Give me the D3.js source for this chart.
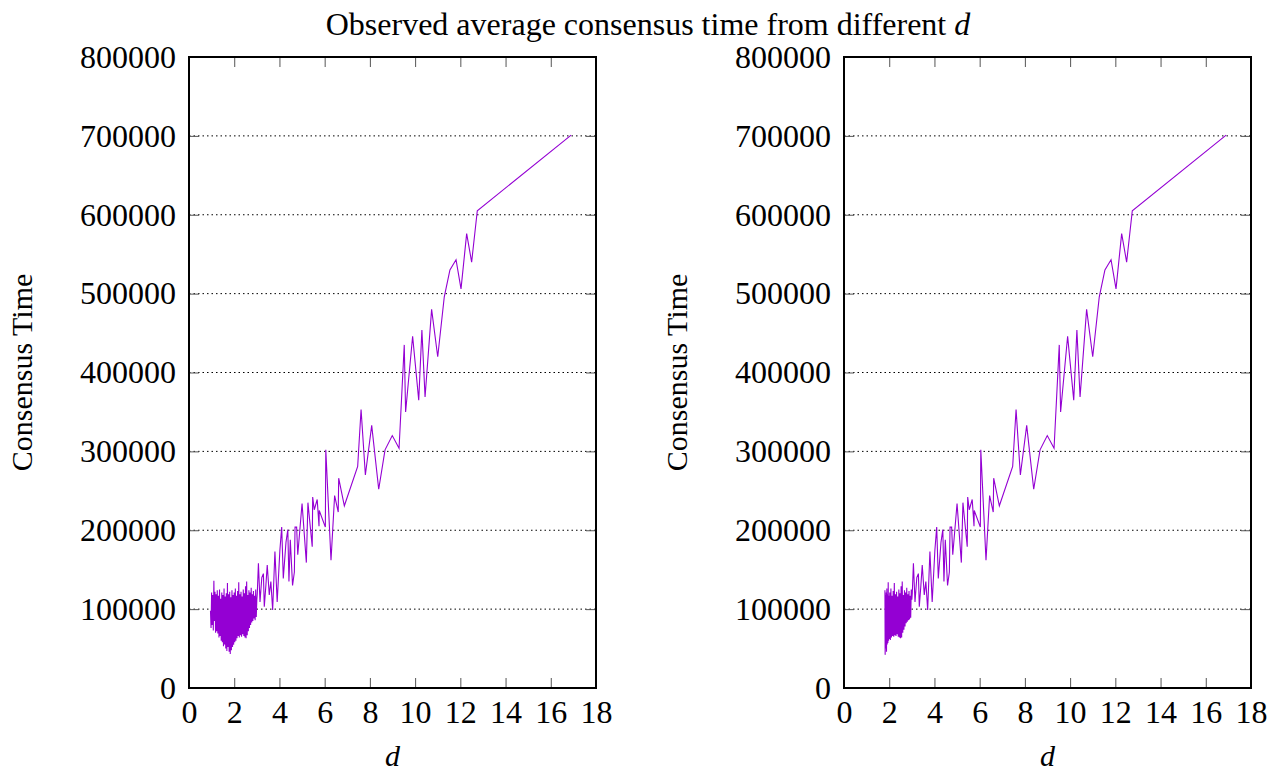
<!DOCTYPE html>
<html>
<head>
<meta charset="utf-8">
<script src="https://cdn.jsdelivr.net/npm/d3@7"></script>
<style>
  body { margin: 0; background: #fff; }
  svg { display: block; font-family: "Liberation Serif", "Times New Roman", serif; }
</style>
</head>
<body>
<svg id="chart" width="1284" height="774"></svg>
<script>
// x ticks and y ticks
const xTicks = [0, 2, 4, 6, 8, 10, 12, 14, 16, 18];
const yTicks = [0, 100000, 200000, 300000, 400000, 500000, 600000, 700000, 800000];
const gridTicks = [100000, 200000, 300000, 400000, 500000, 600000, 700000];

// dense part, left panel (d from ~1)
const leftDenseD = [0.95, 0.975, 1.0, 1.025, 1.05, 1.075, 1.1, 1.125, 1.15, 1.175, 1.2, 1.225, 1.25, 1.275,
  1.3, 1.325, 1.35, 1.375, 1.4, 1.425, 1.45, 1.475, 1.5, 1.525, 1.55, 1.575, 1.6, 1.625, 1.65, 1.675,
  1.7, 1.725, 1.75, 1.775, 1.8, 1.825, 1.85, 1.875, 1.9, 1.925, 1.95, 1.975, 2.0, 2.025, 2.05, 2.075,
  2.1, 2.125, 2.15, 2.175, 2.2, 2.225, 2.25, 2.275, 2.3, 2.325, 2.35, 2.375, 2.4, 2.425, 2.45, 2.475,
  2.5, 2.525, 2.55, 2.575, 2.6, 2.625, 2.65, 2.675, 2.7, 2.725, 2.75, 2.775, 2.8, 2.825, 2.85, 2.875,
  2.9, 2.925, 2.95, 2.975, 3.0];
const leftDenseT = [98000, 76000, 121000, 80000, 118000, 73000, 136000, 85000, 122000, 70000, 119000, 72000, 124000, 69000,
  117000, 64000, 125000, 66000, 113000, 60000, 121000, 58000, 118000, 53000, 126000, 55000, 116000, 50000, 120000, 47000,
  133000, 52000, 119000, 46000, 122000, 43000, 115000, 48000, 124000, 52000, 118000, 55000, 121000, 58000, 126000, 60000,
  117000, 63000, 123000, 66000, 134000, 64000, 119000, 67000, 122000, 65000, 116000, 68000, 125000, 66000, 120000, 64000,
  129000, 63000, 135000, 67000, 118000, 72000, 124000, 76000, 121000, 80000, 127000, 83000, 119000, 85000, 123000, 88000,
  117000, 86000, 125000, 90000, 112000];

// dense part, right panel (d from ~1.8)
const rightDenseD = [1.81, 1.82, 1.835, 1.85, 1.865, 1.88, 1.895, 1.91, 1.925, 1.94, 1.955, 1.97, 1.985, 2.0,
  2.025, 2.05, 2.075, 2.1, 2.125, 2.15, 2.175, 2.2, 2.225, 2.25, 2.275, 2.3, 2.325, 2.35, 2.375, 2.4,
  2.425, 2.45, 2.475, 2.5, 2.525, 2.55, 2.575, 2.6, 2.625, 2.65, 2.675, 2.7, 2.725, 2.75, 2.775, 2.8,
  2.825, 2.85, 2.875, 2.9, 2.925, 2.95, 2.975, 3.0];
const rightDenseT = [124000, 42000, 118000, 50000, 121000, 46000, 126000, 55000, 119000, 57000, 134000, 60000, 117000, 62000,
  121000, 61000, 126000, 64000, 117000, 66000, 123000, 65000, 133000, 67000, 119000, 66000, 122000, 68000, 116000, 65000,
  125000, 64000, 120000, 63000, 129000, 64000, 135000, 70000, 118000, 74000, 124000, 78000, 121000, 82000, 127000, 84000,
  119000, 86000, 123000, 87000, 117000, 89000, 125000, 112000];

// sparse part, shared by both panels
const sparseD = [3.02, 3.07, 3.14, 3.22, 3.29, 3.33, 3.4, 3.46, 3.55, 3.62, 3.7, 3.8, 3.9, 4.02, 4.1, 4.17,
  4.29, 4.37, 4.42, 4.48, 4.58, 4.66, 4.69, 4.76, 4.81, 5.0, 5.19, 5.26, 5.45, 5.47, 5.54, 5.67, 5.75, 5.76,
  6.03, 6.05, 6.28, 6.44, 6.6, 6.62, 6.87, 7.46, 7.61, 7.8, 8.08, 8.39, 8.67, 8.99, 9.29, 9.52, 9.58, 9.89,
  10.16, 10.3, 10.44, 10.73, 11.0, 11.29, 11.54, 11.81, 12.03, 12.28, 12.5, 12.75, 16.9];
const sparseT = [120000, 158000, 109000, 140000, 145000, 103000, 130000, 156000, 118000, 135000, 99000, 173000, 109000, 175000, 204000, 139000,
  185000, 201000, 135000, 188000, 130000, 147000, 204000, 204000, 169000, 234000, 159000, 235000, 179000, 242000, 226000, 239000, 205000, 225000,
  204000, 302000, 162000, 244000, 223000, 266000, 231000, 281000, 353000, 270000, 333000, 252000, 302000, 320000, 304000, 435000, 350000, 446000,
  365000, 454000, 369000, 480000, 420000, 496000, 530000, 543000, 506000, 576000, 540000, 605000, 701000];

const svg = d3.select('#chart');
const lineColor = '#9400d3';
const tickFont = 32;
const labelFont = 30;

const panelW = 407;
const plotTop = 57, plotBottom = 688;

svg.append('text')
  .attr('x', 648).attr('y', 35)
  .attr('text-anchor', 'middle')
  .style('font-size', '32px')
  .call(t => {
    t.append('tspan').text('Observed average consensus time from different ');
    t.append('tspan').style('font-style', 'italic').text('d');
  });

function drawPanel(left, denseD, denseT, labelX) {
  const x = d3.scaleLinear().domain([0, 18]).range([left, left + panelW]);
  const y = d3.scaleLinear().domain([0, 800000]).range([plotBottom, plotTop]);

  // dotted grid
  svg.append('g')
    .selectAll('line')
    .data(gridTicks)
    .join('line')
    .attr('x1', left).attr('x2', left + panelW)
    .attr('y1', d => y(d)).attr('y2', d => y(d))
    .attr('stroke', '#000')
    .attr('stroke-width', 1)
    .attr('stroke-dasharray', '1.5,3');

  const tickStyle = g => {
    g.select('.domain').remove();
    g.selectAll('line').attr('stroke', '#555').attr('stroke-width', 1);
    g.selectAll('text').style('font-size', tickFont + 'px').attr('fill', '#000')
      .style('font-family', '"Liberation Serif", "Times New Roman", serif');
  };

  svg.append('g')
    .attr('transform', `translate(0,${plotBottom})`)
    .call(d3.axisBottom(x).tickValues(xTicks).tickFormat(d3.format('d')).tickSizeInner(-10).tickSizeOuter(0).tickPadding(12))
    .call(tickStyle);

  svg.append('g')
    .attr('transform', `translate(0,${plotTop})`)
    .call(d3.axisTop(x).tickValues(xTicks).tickFormat('').tickSizeInner(-10).tickSizeOuter(0))
    .call(tickStyle);

  svg.append('g')
    .attr('transform', `translate(${left},0)`)
    .call(d3.axisLeft(y).tickValues(yTicks).tickFormat(d3.format('d')).tickSizeInner(-10).tickSizeOuter(0).tickPadding(13))
    .call(tickStyle);

  svg.append('g')
    .attr('transform', `translate(${left + panelW},0)`)
    .call(d3.axisRight(y).tickValues(yTicks).tickFormat('').tickSizeInner(-10).tickSizeOuter(0))
    .call(tickStyle);

  const pts = denseD.map((d, i) => [d, denseT[i]])
    .concat(sparseD.map((d, i) => [d, sparseT[i]]));

  const line = d3.line().x(d => x(d[0])).y(d => y(d[1]));

  svg.append('path')
    .datum(pts)
    .attr('d', line)
    .attr('fill', 'none')
    .attr('stroke', lineColor)
    .attr('stroke-width', 1.1)
    .attr('stroke-linejoin', 'miter');

  // border
  svg.append('rect')
    .attr('x', left).attr('y', plotTop)
    .attr('width', panelW).attr('height', plotBottom - plotTop)
    .attr('fill', 'none')
    .attr('stroke', '#000')
    .attr('stroke-width', 2);

  svg.append('text')
    .attr('transform', `translate(${labelX},${(plotTop + plotBottom) / 2}) rotate(-90)`)
    .attr('text-anchor', 'middle')
    .style('font-size', labelFont + 'px')
    .text('Consensus Time');

  svg.append('text')
    .attr('x', left + panelW / 2).attr('y', 766)
    .attr('text-anchor', 'middle')
    .style('font-size', labelFont + 'px')
    .style('font-style', 'italic')
    .text('d');
}

drawPanel(189, leftDenseD, leftDenseT, 32);
drawPanel(844, rightDenseD, rightDenseT, 687);
</script>
</body>
</html>
